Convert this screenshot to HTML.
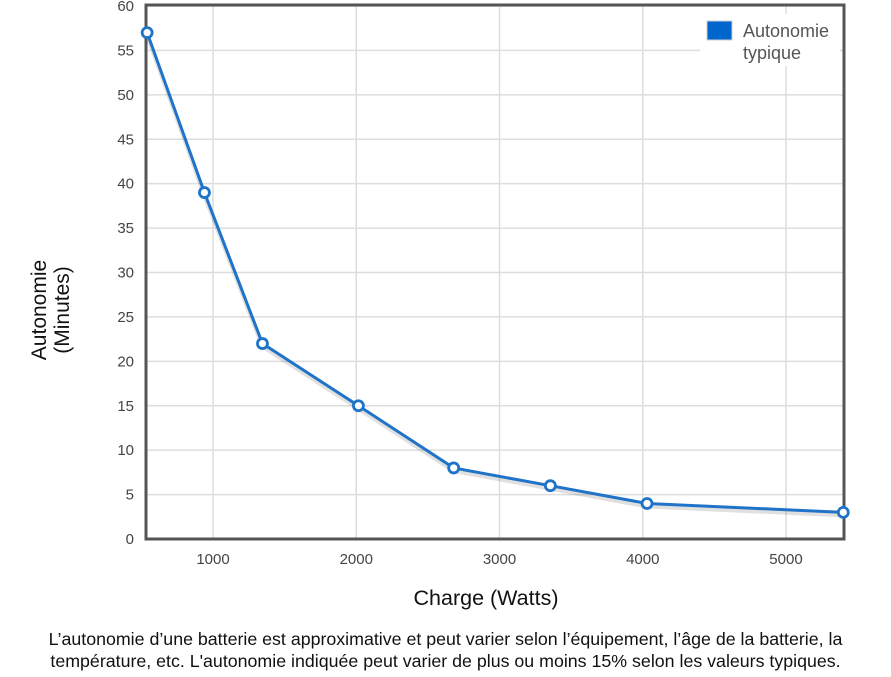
<!DOCTYPE html>
<html><head><meta charset="utf-8"><style>
body{margin:0;background:#fff;width:891px;height:677px;overflow:hidden;font-family:"Liberation Sans",sans-serif}
svg{position:absolute;left:0;top:0}
.note{position:absolute;left:0;top:628px;width:891px;text-align:center;font-size:17.8px;line-height:22px;color:#111;white-space:nowrap}
</style></head><body>
<svg width="891" height="677">
<g id="grid"></g>
<g id="ticks"></g>
<rect x="146" y="5" width="698" height="534" fill="none" stroke="#555" stroke-width="3"/>
<polyline id="shadow" fill="none" stroke="#000" stroke-opacity="0.12" stroke-width="4"/>
<polyline id="line" fill="none" stroke="#1f73c8" stroke-width="3"/>
<g id="pts"></g>
<g>
<rect x="700" y="14" width="140" height="52" fill="#fff"/>
<rect x="707" y="21" width="25" height="19" fill="#0066cc" stroke="#ccc" stroke-width="1"/>
<text x="743" y="37" font-size="18" fill="#555">Autonomie</text>
<text x="743" y="59" font-size="18" fill="#555">typique</text>
</g>
<text x="486" y="605" font-size="21.5" text-anchor="middle" fill="#111">Charge (Watts)</text>
<text transform="translate(46,310) rotate(-90)" font-size="21" text-anchor="middle" fill="#111"><tspan x="0" dy="0">Autonomie</tspan><tspan x="0" dy="23">(Minutes)</tspan></text>
</svg>
<div class="note">L’autonomie d’une batterie est approximative et peut varier selon l’équipement, l’âge de la batterie, la<br>température, etc. L'autonomie indiquée peut varier de plus ou moins 15% selon les valeurs typiques.</div>
<script>
const watts=[540,940,1345,2015,2680,3355,4030,5400];
const minutes=[57,39,22,15,8,6,4,3];
const xTicks=[1000,2000,3000,4000,5000];
const yTicks=[0,5,10,15,20,25,30,35,40,45,50,55,60];
const NS="http://www.w3.org/2000/svg";
const X0=146,X1=844,Y0=539,Y1=6,xmin=532,xmax=5405,ymin=0,ymax=60;
const xs=v=>X0+(v-xmin)/(xmax-xmin)*(X1-X0);
const ys=v=>Y0-(v-ymin)/(ymax-ymin)*(Y0-Y1);
function mk(t,a,p){const e=document.createElementNS(NS,t);for(const k in a)e.setAttribute(k,a[k]);p.appendChild(e);return e;}
const grid=document.getElementById('grid'),ticks=document.getElementById('ticks');
yTicks.forEach(v=>{
 const l=mk('line',{x1:X0,x2:X1,y1:ys(v),y2:ys(v),stroke:'#ddd','stroke-width':1.5},grid);
 
 
 const t=mk('text',{x:134,y:ys(v)+5,'font-size':15,'text-anchor':'end',fill:'#444'},ticks);
 t.textContent=v;
 
 
});
xTicks.forEach(v=>{
 const l=mk('line',{x1:xs(v),x2:xs(v),y1:Y1,y2:Y0,stroke:'#ddd','stroke-width':1.5},grid);
 
 
 const t=mk('text',{x:xs(v),y:564,'font-size':15,'text-anchor':'middle',fill:'#444'},ticks);
 t.textContent=v;
 
 
});
const pts=watts.map((w,i)=>xs(w)+','+ys(minutes[i])).join(' ');
document.getElementById('line').setAttribute('points',pts);
document.getElementById('shadow').setAttribute('points',watts.map((w,i)=>xs(w)+','+(ys(minutes[i])+3)).join(' '));
const pg=document.getElementById('pts');
watts.forEach((w,i)=>{
 const c=mk('circle',{cx:xs(w),cy:ys(minutes[i]),r:5,fill:'#fff',stroke:'#1f73c8','stroke-width':2.8},pg);
 
 
});
</script>
</body></html>
